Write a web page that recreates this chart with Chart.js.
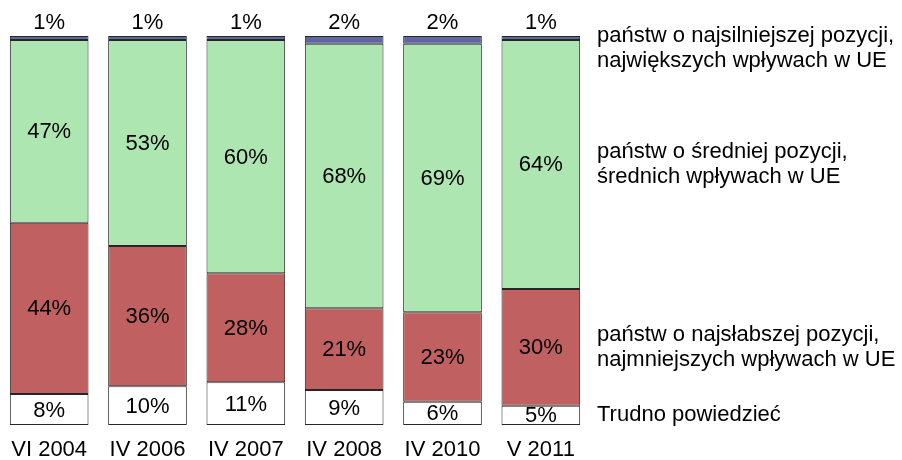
<!DOCTYPE html>
<html>
<head>
<meta charset="utf-8">
<script src="https://cdn.jsdelivr.net/npm/chart.js@4/dist/chart.umd.min.js"></script>
<style>
  html, body { margin: 0; padding: 0; background: #ffffff; }
  #wrap { width: 902px; height: 460px; position: relative; }
</style>
</head>
<body>
<div id="wrap"><canvas id="chart"></canvas></div>
<script>
// Survey waves
const waves = ['VI 2004', 'IV 2006', 'IV 2007', 'IV 2008', 'IV 2010', 'V 2011'];

// Series, bottom to top (percent)
const hardToSay = [8, 10, 11, 9, 6, 5];
const weakest = [44, 36, 28, 21, 23, 30];
const middle = [47, 53, 60, 68, 69, 64];
const strongest = [1, 1, 1, 2, 2, 1];

// Right-hand series labels (one entry per line)
const labelHardToSay = ['Trudno powiedzieć'];
const labelWeakest = ['państw o najsłabszej pozycji,', 'najmniejszych wpływach w UE'];
const labelMiddle = ['państw o średniej pozycji,', 'średnich wpływach w UE'];
const labelStrongest = ['państw o najsilniejszej pozycji,', 'największych wpływach w UE'];

const FAMILY = '"Liberation Sans", Arial, sans-serif';
const FONT = '22px ' + FAMILY;

/**
 * Draws the percent labels on the bars and the series names on the right
 */
const labelPlugin = {
  id: 'barLabels',
  afterDatasetsDraw(chart) {
    const ctx = chart.ctx;
    const area = chart.chartArea;
    const lastDs = chart.data.datasets.length - 1;
    ctx.save();
    ctx.font = FONT;
    ctx.fillStyle = '#000000';

    chart.data.datasets.forEach((ds, i) => {
      const meta = chart.getDatasetMeta(i);
      meta.data.forEach((bar, j) => {
        const { x, y, base } = bar.getProps(['x', 'y', 'base'], true);
        const text = ds.data[j] + '%';
        ctx.textAlign = 'center';
        if (i === lastDs) {
          // thin top segment: label sits above the bar
          ctx.textBaseline = 'bottom';
          ctx.fillText(text, x, Math.min(y, base) - 2);
        } else {
          ctx.textBaseline = 'middle';
          ctx.fillText(text, x, (y + base) / 2 + 1);
        }
      });

      // series name next to the last bar
      const lastBar = meta.data[meta.data.length - 1];
      const { y, base } = lastBar.getProps(['y', 'base'], true);
      const lines = ds.sideLabel;
      const lineH = 25;
      let cy = (y + base) / 2;
      if (i === lastDs) cy = Math.max(cy, area.top + 12);
      const startY = cy - (lines.length - 1) * lineH / 2;
      ctx.textAlign = 'left';
      ctx.textBaseline = 'middle';
      lines.forEach((ln, k) => {
        ctx.fillText(ln, area.right + 7, startY + k * lineH);
      });
    });
    ctx.restore();
  }
};

const barStyle = {
  borderColor: '#262626',
  borderWidth: 1,
  borderSkipped: false,
  barPercentage: 0.8,
  categoryPercentage: 1.0
};

new Chart(document.getElementById('chart'), {
  type: 'bar',
  data: {
    labels: waves,
    datasets: [
      { label: labelHardToSay.join(' '), sideLabel: labelHardToSay, data: hardToSay, backgroundColor: '#ffffff', ...barStyle },
      { label: labelWeakest.join(' '), sideLabel: labelWeakest, data: weakest, backgroundColor: '#c06060', ...barStyle },
      { label: labelMiddle.join(' '), sideLabel: labelMiddle, data: middle, backgroundColor: '#ade6b0', ...barStyle },
      { label: labelStrongest.join(' '), sideLabel: labelStrongest, data: strongest, backgroundColor: '#6066a2', ...barStyle }
    ]
  },
  options: {
    responsive: true,
    maintainAspectRatio: false,
    animation: false,
    layout: {
      padding: { left: 0, right: 312, top: 36, bottom: -15 }
    },
    plugins: {
      legend: { display: false },
      tooltip: { enabled: false }
    },
    scales: {
      x: {
        stacked: true,
        grid: { display: false, drawTicks: false },
        border: { display: false },
        ticks: {
          color: '#000000',
          padding: 10,
          font: { family: FAMILY, size: 22, lineHeight: 1.36 }
        }
      },
      y: {
        stacked: true,
        display: false,
        min: 0,
        max: 100
      }
    }
  },
  plugins: [labelPlugin]
});
</script>
</body>
</html>
